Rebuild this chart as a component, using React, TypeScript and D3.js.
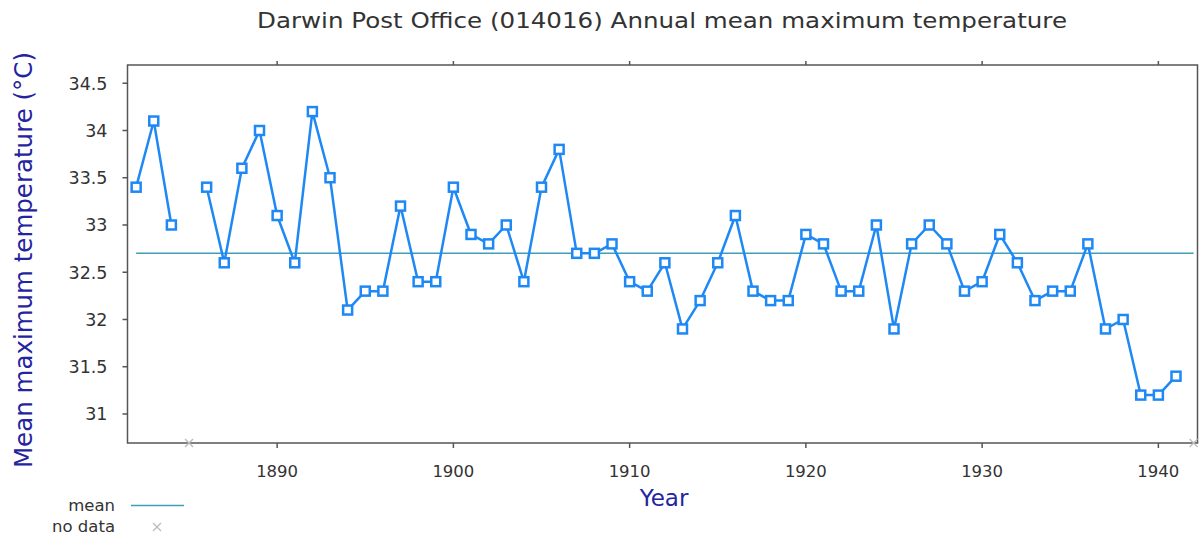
import React from "react";
import * as d3 from "d3";

const years: number[] = [
  1882, 1883, 1884, 1885, 1886, 1887, 1888, 1889, 1890, 1891, 1892, 1893, 1894, 1895, 1896,
  1897, 1898, 1899, 1900, 1901, 1902, 1903, 1904, 1905, 1906, 1907, 1908, 1909, 1910, 1911,
  1912, 1913, 1914, 1915, 1916, 1917, 1918, 1919, 1920, 1921, 1922, 1923, 1924, 1925, 1926,
  1927, 1928, 1929, 1930, 1931, 1932, 1933, 1934, 1935, 1936, 1937, 1938, 1939, 1940, 1941,
];
const temps: (number | null)[] = [
  33.4, 34.1, 33.0, null, 33.4, 32.6, 33.6, 34.0, 33.1, 32.6, 34.2, 33.5, 32.1, 32.3, 32.3,
  33.2, 32.4, 32.4, 33.4, 32.9, 32.8, 33.0, 32.4, 33.4, 33.8, 32.7, 32.7, 32.8, 32.4, 32.3,
  32.6, 31.9, 32.2, 32.6, 33.1, 32.3, 32.2, 32.2, 32.9, 32.8, 32.3, 32.3, 33.0, 31.9, 32.8,
  33.0, 32.8, 32.3, 32.4, 32.9, 32.6, 32.2, 32.3, 32.3, 32.8, 31.9, 32.0, 31.2, 31.2, 31.4,
];
const noDataYears: number[] = [1885, 1942];
const meanValue = 32.7;
const yTicks: number[] = [31, 31.5, 32, 32.5, 33, 33.5, 34, 34.5];
const xTicks: number[] = [1890, 1900, 1910, 1920, 1930, 1940];

const W = 1203;
const H = 537;
const left = 127.5;
const right = 1197.5;
const top = 65;
const bottom = 443;
const font = "DejaVu Sans, Verdana, sans-serif";

export default function App() {
  const x = d3.scaleLinear().domain([1881.51, 1942.22]).range([left, right]);
  const y = d3.scaleLinear().domain([30.693, 34.693]).range([bottom, top]);
  const pts = years.map((yr, i) => ({ yr, v: temps[i] }));
  const line = d3
    .line<{ yr: number; v: number | null }>()
    .defined((d) => d.v !== null)
    .x((d) => x(d.yr))
    .y((d) => y(d.v as number));
  const fmt = (v: number) => (Number.isInteger(v) ? String(v) : v.toFixed(1));
  const blue = "#1e88f5";
  return (
    <svg width={W} height={H} style={{ position: "absolute", left: 0, top: 0 }}>
      <rect x={0} y={0} width={W} height={H} fill="#fff" />
      <text
        x={662}
        y={28}
        textAnchor="middle"
        fontFamily={font}
        fontSize={20.5}
        fill="#333"
        textLength={810}
        lengthAdjust="spacingAndGlyphs"
      >
        Darwin Post Office (014016) Annual mean maximum temperature
      </text>
      {/* mean line */}
      <line x1={x(1882)} x2={x(1942)} y1={y(meanValue)} y2={y(meanValue)} stroke="#3f9fb8" strokeWidth={1.5} />
      {/* frame */}
      <rect x={left} y={top} width={right - left} height={bottom - top} fill="none" stroke="#555" strokeWidth={1.5} />
      {yTicks.map((t) => (
        <g key={t}>
          <line x1={left - 5} x2={left} y1={y(t)} y2={y(t)} stroke="#555" strokeWidth={1.5} />
          <text x={left - 20} y={y(t) + 6.5} textAnchor="end" fontFamily={font} fontSize={17.5} fill="#333">
            {fmt(t)}
          </text>
        </g>
      ))}
      {xTicks.map((t) => (
        <g key={t}>
          <line x1={x(t)} x2={x(t)} y1={bottom} y2={bottom + 5} stroke="#555" strokeWidth={1.5} />
          <line x1={x(t)} x2={x(t)} y1={top} y2={top - 4} stroke="#555" strokeWidth={1.5} />
          <text x={x(t)} y={477} textAnchor="middle" fontFamily={font} fontSize={16.5} fill="#333">
            {t}
          </text>
        </g>
      ))}
      <path d={line(pts) || ""} fill="none" stroke={blue} strokeWidth={2.5} strokeLinejoin="round" />
      {pts
        .filter((d) => d.v !== null)
        .map((d) => (
          <g key={d.yr}>
            <rect x={x(d.yr) - 4.5} y={y(d.v as number) - 4.5} width={9} height={9} fill="#fff" stroke={blue} strokeWidth={2.5} />
          </g>
        ))}
      {noDataYears.map((yr) => (
        <g key={yr} stroke="#bbb" strokeWidth={1.3}>
          <line x1={x(yr) - 4} x2={x(yr) + 4} y1={bottom - 4} y2={bottom + 4} />
          <line x1={x(yr) - 4} x2={x(yr) + 4} y1={bottom + 4} y2={bottom - 4} />
        </g>
      ))}
      <text
        transform={`translate(32,${260}) rotate(-90)`}
        textAnchor="middle"
        fontFamily={font}
        fontSize={24.5}
        fill="#2424a0"
      >
        Mean maximum temperature (°C)
      </text>
      <text x={664} y={506} textAnchor="middle" fontFamily={font} fontSize={23} fill="#2424a0">
        Year
      </text>
      {/* legend */}
      <text x={115} y={511} textAnchor="end" fontFamily={font} fontSize={16.5} fill="#333">
        mean
      </text>
      <line x1={131} x2={184} y1={505.5} y2={505.5} stroke="#3f9fb8" strokeWidth={1.5} />
      <text x={115} y={532} textAnchor="end" fontFamily={font} fontSize={16.5} fill="#333">
        no data
      </text>
      <g stroke="#bbb" strokeWidth={1.3}>
        <line x1={153} x2={161} y1={523} y2={531} />
        <line x1={153} x2={161} y1={531} y2={523} />
      </g>
    </svg>
  );
}
